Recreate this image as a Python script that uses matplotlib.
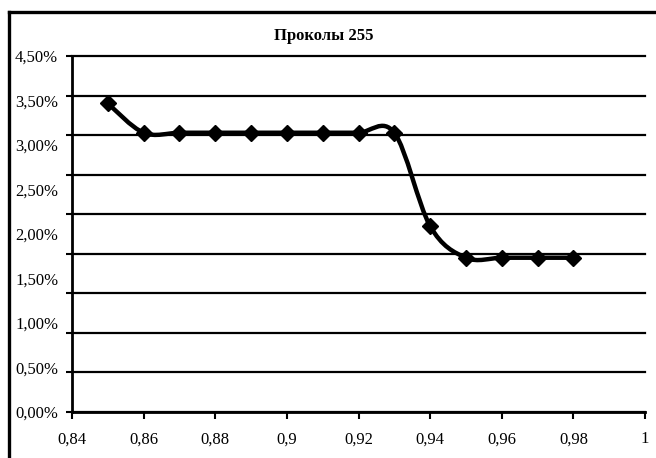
import numpy as np
import matplotlib.pyplot as plt
from matplotlib.path import Path
from matplotlib.patches import PathPatch
from matplotlib.lines import Line2D

# share of punctures vs threshold
threshold = [0.85, 0.86, 0.87, 0.88, 0.89, 0.90, 0.91, 0.92, 0.93, 0.94, 0.95, 0.96, 0.97, 0.98]
rate_pct = [3.90, 3.53, 3.53, 3.53, 3.53, 3.53, 3.53, 3.53, 3.53, 2.35, 1.95, 1.95, 1.95, 1.95]

x_ticks = [0.84, 0.86, 0.88, 0.90, 0.92, 0.94, 0.96, 0.98, 1.00]
x_labels = ["0,84", "0,86", "0,88", "0,9", "0,92", "0,94", "0,96", "0,98", "1"]
y_grid = [0.0, 0.5, 1.0, 1.5, 2.0, 2.5, 3.0, 3.5, 4.0, 4.5]
y_labels = ["0,00%", "0,50%", "1,00%", "1,50%", "2,00%", "2,50%", "3,00%", "3,50%", "4,50%"]
title = "Проколы 255"

serif = "Liberation Serif"

fig = plt.figure(figsize=(6.56, 4.58), dpi=100)
W, H = 656, 458
ax = fig.add_axes([72 / W, (H - 412) / H, (645 - 72) / W, (412 - 56) / H])
ax.set_xlim(0.84, 1.0)
ax.set_ylim(0, 4.5)

# gridlines and tick marks
ax.set_yticks(y_grid)
ax.set_yticklabels([])
ax.yaxis.grid(True, which="major", color="black", lw=1.6)
for gl in ax.yaxis.get_gridlines():
    gl.set_clip_on(False)
ax.tick_params(axis="y", which="major", direction="out", length=4, width=1.5)

# value labels spread along the axis
ax.yaxis.remove_overlapping_locs = False
ax.set_yticks(np.linspace(0, 4.5, len(y_labels)), labels=y_labels, minor=True)
ax.tick_params(axis="y", which="minor", length=0, pad=10, labelsize=12)

ax.set_xticks(x_ticks, labels=x_labels)
ax.tick_params(axis="x", direction="out", length=5, width=1.5, pad=9, labelsize=12)
for lab in ax.get_xticklabels() + ax.get_yticklabels(minor=True):
    lab.set_family(serif)

for side in ["top", "right"]:
    ax.spines[side].set_visible(False)
for side in ["left", "bottom"]:
    ax.spines[side].set_linewidth(2)
ax.set_axisbelow(True)

# smoothed line (bezier segments through the points)
pts = np.column_stack([threshold, rate_pct])
n = len(pts)
verts = [pts[0]]
codes = [Path.MOVETO]
for i in range(n - 1):
    p0 = pts[max(i - 1, 0)]
    p1 = pts[i]
    p2 = pts[i + 1]
    p3 = pts[min(i + 2, n - 1)]
    verts += [p1 + (p2 - p0) / 6, p2 - (p3 - p1) / 6, p2]
    codes += [Path.CURVE4] * 3
ax.add_patch(PathPatch(Path(verts, codes), fill=False, ec="black", lw=3.2,
                       joinstyle="round", capstyle="round", zorder=3))
ax.plot(threshold, rate_pct, ls="none", marker="D", ms=8.5, color="black", zorder=4)

fig.text(324 / W, 1 - 36 / H, title, ha="center", va="center",
         fontsize=12, fontweight="bold", family=serif)

# chart frame
fig.add_artist(Line2D([8.5 / W, 8.5 / W], [0, 1 - 12 / H], transform=fig.transFigure,
                      color="black", lw=2.4))
fig.add_artist(Line2D([8.5 / W, 1], [1 - 12 / H, 1 - 12 / H], transform=fig.transFigure,
                      color="black", lw=2.4))

fig.savefig("out.png", dpi=100)
